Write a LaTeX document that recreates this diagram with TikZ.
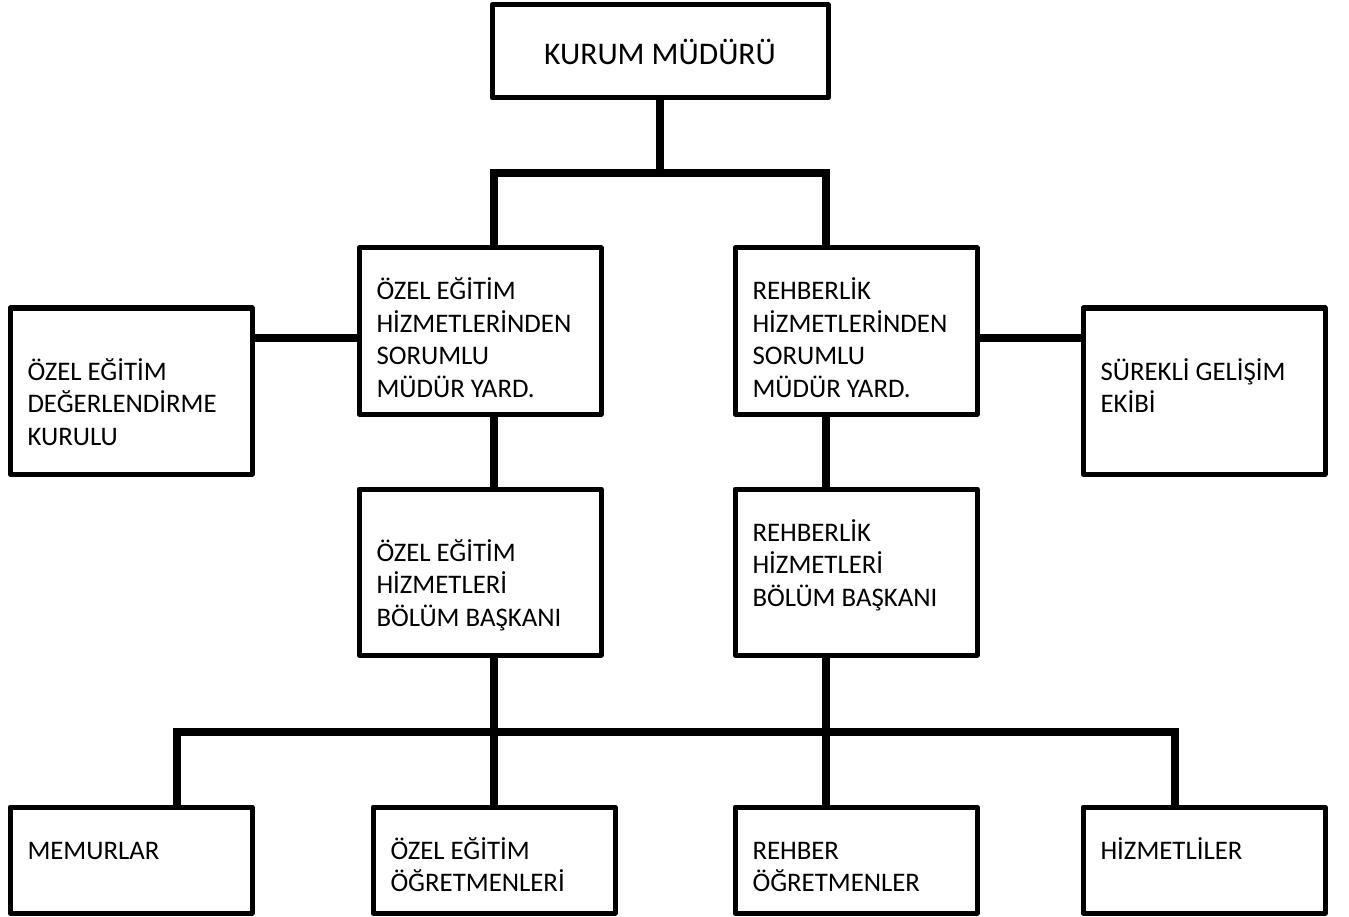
\documentclass[tikz,border=0pt]{standalone}
\usepackage{fontspec}
\setmainfont{Carlito}
\usetikzlibrary{positioning}
\newcommand{\unittext}[3]{\parbox[c][#1][t]{207pt}{\raggedright\rule{0pt}{#2}#3}}

\begin{document}
\begin{tikzpicture} [x=1pt, y=-1pt, node distance=75pt,
	unit/.style={draw, line width=5pt, line join=round, outer sep=0pt, inner xsep=17.5pt, inner ysep=0pt, minimum width=242pt, minimum height=166pt, font=\fontsize{26.8}{32.5}\selectfont},
	staff/.style={unit, minimum height=106pt},
	head/.style={unit, minimum width=336pt, minimum height=93pt, font=\fontsize{31.5}{37}\selectfont},
	link/.style={line width=7.5pt}]

\useasboundingbox (0,0) rectangle (1349,917);

\node [head] 	(top) at (660,51.5)	{KURUM MÜDÜRÜ};
\node [unit] 	(l1) at (480,331)	{\unittext{166pt}{52pt}{ÖZEL EĞİTİM\\HİZMETLERİNDEN\\SORUMLU\\MÜDÜR YARD.}};
\node [unit] 	(r1) [right=134pt of l1]	{\unittext{166pt}{52pt}{REHBERLİK\\HİZMETLERİNDEN\\SORUMLU\\MÜDÜR YARD.}};
\node [unit] 	(ll) [left=107pt of l1, yshift=-60pt]	{\unittext{166pt}{72pt}{ÖZEL EĞİTİM\\DEĞERLENDİRME\\KURULU}};
\node [unit] 	(rr) [right=106pt of r1, yshift=-60pt]	{\unittext{166pt}{72pt}{SÜREKLİ GELİŞİM\\EKİBİ}};
\node [unit] 	(l2) [below=of l1]	{\unittext{166pt}{72pt}{ÖZEL EĞİTİM\\HİZMETLERİ\\BÖLÜM BAŞKANI}};
\node [unit] 	(r2) [below=of r1]	{\unittext{166pt}{52pt}{REHBERLİK\\HİZMETLERİ\\BÖLÜM BAŞKANI}};
\node [staff] 	(b2) [below=152pt of l2, xshift=14pt]	{\unittext{106pt}{52pt}{ÖZEL EĞİTİM\\ÖĞRETMENLERİ}};
\node [staff] 	(b3) [below=152pt of r2]	{\unittext{106pt}{52pt}{REHBER\\ÖĞRETMENLER}};
\node [staff] 	(b1) [left=121pt of b2]	{\unittext{106pt}{52pt}{MEMURLAR}};
\node [staff] 	(b4) [right=106pt of b3]	{\unittext{106pt}{52pt}{HİZMETLİLER}};

\coordinate (hub) at (660,173);
\coordinate (busl) at (494,173);
\coordinate (busr) at (826,173);
\coordinate (side) at (0,338);
\coordinate (lowl) at (177,732);
\coordinate (lowr) at (1175,732);

\draw [link] (top) -- (hub);
\draw [link] (l1.north -| busl) -- (busl) -- (busr) -- (r1.north -| busr);
\draw [link] (ll.east |- side) -- (l1.west |- side);
\draw [link] (r1.east |- side) -- (rr.west |- side);
\draw [link] (l1.south -| busl) -- (l2.north -| busl);
\draw [link] (r1.south -| busr) -- (r2.north -| busr);
\draw [link] (l2.south -| busl) -- (b2.north -| busl);
\draw [link] (r2.south -| busr) -- (b3.north -| busr);
\draw [link] (b1.north -| lowl) -- (lowl) -- (lowr) -- (b4.north -| lowr);

\end{tikzpicture}
\end{document}
